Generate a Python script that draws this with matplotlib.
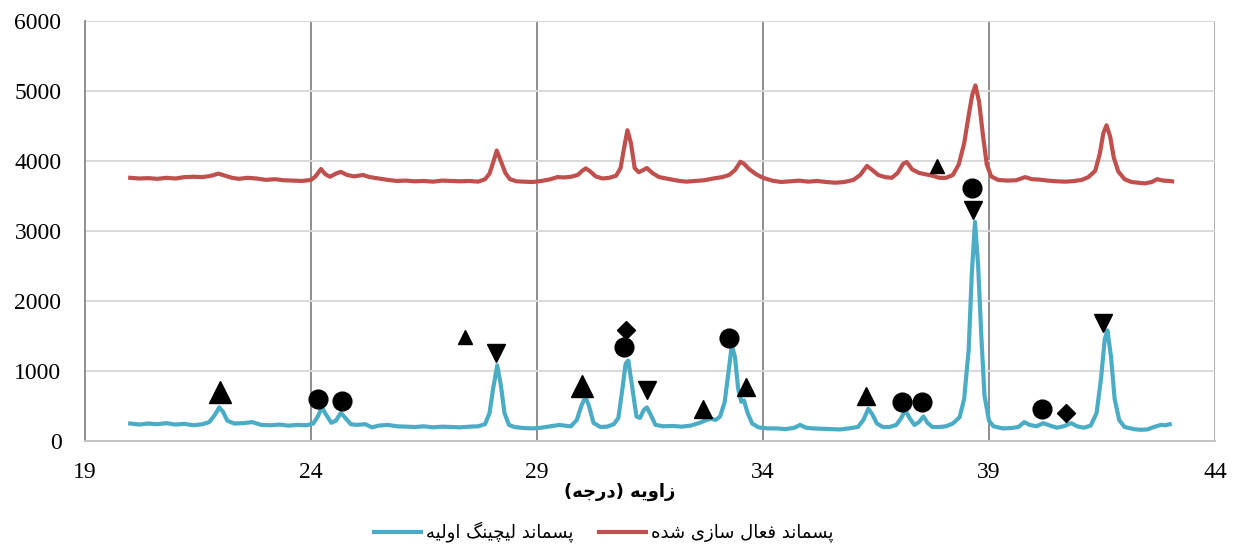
import matplotlib
matplotlib.use("Agg")
import matplotlib.pyplot as plt
from matplotlib.ticker import MultipleLocator

# ----- series (2-theta in degrees, intensity in counts) -----
leach_angle = [
    20.0, 20.2, 20.4, 20.6, 20.8, 21.0, 21.2, 21.4, 21.6, 21.75, 21.88, 21.97, 22.05, 22.15,
    22.3, 22.5, 22.7, 22.9, 23.1, 23.3, 23.5, 23.7, 23.9, 24.05, 24.15, 24.24, 24.33, 24.45,
    24.55, 24.66, 24.76, 24.88, 25.0, 25.2, 25.35, 25.5, 25.7, 25.9, 26.1, 26.3, 26.5, 26.7,
    26.9, 27.1, 27.3, 27.5, 27.7, 27.85, 27.95, 28.03, 28.12, 28.2, 28.28, 28.38, 28.5, 28.7,
    28.9, 29.1, 29.3, 29.5, 29.6, 29.75, 29.88, 29.98, 30.07, 30.15, 30.25, 30.4, 30.55, 30.7,
    30.8, 30.88, 30.96, 31.02, 31.1, 31.2, 31.28, 31.36, 31.43, 31.52, 31.62, 31.8, 32.0, 32.2,
    32.4, 32.6, 32.75, 32.85, 32.95, 33.05, 33.15, 33.24, 33.31, 33.38, 33.45, 33.52, 33.58,
    33.66, 33.76, 33.9, 34.1, 34.3, 34.5, 34.7, 34.82, 34.95, 35.1, 35.3, 35.5, 35.7, 35.9,
    36.1, 36.22, 36.33, 36.42, 36.52, 36.65, 36.8, 36.95, 37.05, 37.15, 37.25, 37.35, 37.45,
    37.55, 37.64, 37.75, 37.9, 38.05, 38.2, 38.35, 38.45, 38.55, 38.62, 38.69, 38.76, 38.83,
    38.9, 39.0, 39.1, 39.3, 39.5, 39.65, 39.78, 39.9, 40.05, 40.2, 40.35, 40.5, 40.65, 40.82,
    40.95, 41.1, 41.25, 41.38, 41.48, 41.56, 41.62, 41.7, 41.78, 41.88, 42.0, 42.2, 42.35,
    42.5, 42.65, 42.8, 42.9, 43.0,
]
leach_counts = [
    250, 235, 250, 240, 255, 235, 245, 225, 240, 270, 380, 480, 420, 290,
    250, 255, 270, 230, 225, 235, 220, 230, 225, 250, 350, 480, 380, 260,
    290, 400, 330, 240, 230, 240, 195, 220, 230, 210, 205, 200, 210, 195,
    205, 200, 195, 205, 210, 240, 400, 750, 1080, 800, 400, 230, 200, 185,
    180, 190, 210, 230, 220, 210, 300, 500, 630, 500, 260, 200, 205, 240,
    330, 700, 1100, 1150, 800, 350, 330, 440, 480, 370, 230, 210, 215, 205,
    220, 260, 300, 320, 300, 350, 550, 1000, 1370, 1200, 750, 560, 580,
    400, 250, 195, 180, 180, 170, 190, 230, 190, 180, 175, 170, 165, 180,
    200, 300, 460, 380, 250, 200, 200, 230, 320, 440, 320, 230, 270,
    350, 260, 200, 200, 210, 250, 340, 600, 1300, 2400, 3130, 2500, 1500,
    650, 290, 210, 180, 185, 200, 270, 230, 210, 255, 220, 190, 210, 255,
    210, 190, 220, 400, 900, 1450, 1580, 1200, 600, 300, 200, 170, 160,
    165, 200, 230, 225, 240,
]

active_angle = [
    20.0, 20.2, 20.4, 20.6, 20.8, 21.0, 21.2, 21.4, 21.6, 21.8, 21.95, 22.1, 22.25, 22.4,
    22.6, 22.8, 23.0, 23.2, 23.4, 23.6, 23.8, 24.0, 24.1, 24.22, 24.32, 24.42, 24.55, 24.66,
    24.8, 24.95, 25.15, 25.3, 25.5, 25.7, 25.9, 26.1, 26.3, 26.5, 26.7, 26.9, 27.1, 27.3,
    27.5, 27.7, 27.85, 27.95, 28.04, 28.11, 28.2, 28.3, 28.4, 28.55, 28.7, 28.9, 29.1, 29.3,
    29.45, 29.6, 29.75, 29.9, 30.0, 30.08, 30.18, 30.3, 30.45, 30.6, 30.75, 30.85, 30.93,
    31.0, 31.08, 31.16, 31.25, 31.35, 31.43, 31.55, 31.7, 31.9, 32.1, 32.3, 32.5, 32.7, 32.9,
    33.1, 33.25, 33.38, 33.5, 33.58, 33.7, 33.85, 34.0, 34.2, 34.4, 34.6, 34.8, 35.0, 35.2,
    35.4, 35.6, 35.8, 36.0, 36.15, 36.3, 36.42, 36.55, 36.7, 36.85, 36.98, 37.1, 37.18, 37.3,
    37.45, 37.6, 37.75, 37.9, 38.05, 38.2, 38.33, 38.45, 38.55, 38.63, 38.7, 38.78, 38.86,
    38.95, 39.05, 39.2, 39.4, 39.6, 39.8, 39.95, 40.1, 40.3, 40.5, 40.7, 40.9, 41.05, 41.2,
    41.35, 41.45, 41.53, 41.6, 41.68, 41.76, 41.86, 42.0, 42.15, 42.3, 42.45, 42.6, 42.72,
    42.85, 43.0, 43.05,
]
active_counts = [
    3760, 3750, 3755, 3745, 3760, 3750, 3770, 3775, 3770, 3790, 3820, 3790, 3760, 3745,
    3760, 3750, 3730, 3740, 3725, 3720, 3715, 3730, 3780, 3885, 3810, 3775, 3820, 3845,
    3800, 3780, 3800, 3770, 3750, 3730, 3715, 3720, 3710, 3715, 3705, 3720, 3715, 3710,
    3715, 3705, 3740, 3820, 4000, 4150, 4000, 3830, 3740, 3710, 3705, 3700, 3715, 3740,
    3770, 3765, 3775, 3800, 3860, 3895, 3850, 3780, 3750, 3760, 3790, 3900, 4200,
    4440, 4250, 3900, 3840, 3870, 3900, 3830, 3770, 3745, 3720, 3705, 3715, 3725, 3750,
    3770, 3800, 3870, 3990, 3960, 3880, 3810, 3760, 3720, 3700, 3710, 3720, 3705, 3715,
    3700, 3690, 3700, 3730, 3800, 3930, 3870, 3800, 3770, 3760, 3830, 3960, 3985, 3880,
    3830, 3810, 3790, 3760, 3760, 3800, 3950, 4250, 4650, 4950, 5080, 4850, 4400,
    3950, 3780, 3730, 3720, 3725, 3770, 3740, 3735, 3720, 3710, 3705, 3715, 3730, 3770,
    3860, 4100, 4400, 4510, 4350, 4050, 3850, 3740, 3700, 3690, 3680, 3700, 3740,
    3720, 3715, 3710,
]

# phase markers (angle, height) as drawn above the peaks
big_up_angle, big_up_height = [21.99, 30.0], [700, 786]
mid_up_angle, mid_up_height = [32.67, 33.63, 36.28], [460, 771, 643]
small_up_angle, small_up_height = [27.4, 37.85], [1486, 3930]
down_angle, down_height = [28.1, 31.43, 38.65, 41.52], [1257, 729, 3300, 1686]
circle_angle = [24.15, 24.69, 30.93, 33.25, 37.08, 37.52, 38.62, 40.17]
circle_height = [600, 571, 1343, 1467, 557, 557, 3614, 457]
diamond_angle, diamond_height = [30.97, 40.7], [1586, 400]

x_ticks = [19, 24, 29, 34, 39, 44]

label_leach = "پسماند لیچینگ اولیه"
label_active = "پسماند فعال سازی شده"
label_x = "زاویه (درجه)"

BLUE = "#4BACC6"
RED = "#C0504D"

# ----- minimal Arabic/Persian shaping (matplotlib draws glyphs left-to-right, unjoined) -----
FORMS = {
    "ا": (0xFE8D, 0xFE8E), "د": (0xFEA9, 0xFEAA), "ر": (0xFEAD, 0xFEAE),
    "ز": (0xFEAF, 0xFEB0), "و": (0xFEED, 0xFEEE),
    "ج": (0xFE9D, 0xFE9E, 0xFE9F, 0xFEA0), "س": (0xFEB1, 0xFEB2, 0xFEB3, 0xFEB4),
    "ش": (0xFEB5, 0xFEB6, 0xFEB7, 0xFEB8), "ع": (0xFEC9, 0xFECA, 0xFECB, 0xFECC),
    "ف": (0xFED1, 0xFED2, 0xFED3, 0xFED4), "ل": (0xFEDD, 0xFEDE, 0xFEDF, 0xFEE0),
    "م": (0xFEE1, 0xFEE2, 0xFEE3, 0xFEE4), "ن": (0xFEE5, 0xFEE6, 0xFEE7, 0xFEE8),
    "ه": (0xFEE9, 0xFEEA, 0xFEEB, 0xFEEC), "ی": (0xFBFC, 0xFBFD, 0xFBFE, 0xFBFF),
    "پ": (0xFB56, 0xFB57, 0xFB58, 0xFB59), "چ": (0xFB7A, 0xFB7B, 0xFB7C, 0xFB7D),
    "گ": (0xFB92, 0xFB93, 0xFB94, 0xFB95),
}


def rtl(text):
    out = []
    for i, ch in enumerate(text):
        if ch not in FORMS:
            out.append(ch)
            continue
        prev = text[i - 1] if i > 0 else ""
        nxt = text[i + 1] if i + 1 < len(text) else ""
        f = FORMS[ch]
        jp = prev in FORMS and len(FORMS[prev]) == 4
        jn = len(f) == 4 and nxt in FORMS
        if jp and jn:
            out.append(chr(f[3]))
        elif jp:
            out.append(chr(f[1]))
        elif jn:
            out.append(chr(f[2]))
        else:
            out.append(chr(f[0]))
    return "".join(reversed(out)).translate(str.maketrans("()", ")("))


plt.rcParams["font.family"] = ["Liberation Serif", "DejaVu Sans"]

fig = plt.figure(figsize=(12.35, 5.48), dpi=100)
ax = fig.add_axes([85 / 1235, 1 - 441 / 548, 1130 / 1235, 420 / 548])

ax.plot(leach_angle, leach_counts, color=BLUE, lw=3.0, solid_joinstyle="round",
        label=rtl(label_leach), zorder=2)
ax.plot(active_angle, active_counts, color=RED, lw=3.0, solid_joinstyle="round",
        label=rtl(label_active), zorder=2)

mk = dict(ls="none", color="black", zorder=4)
ax.plot(big_up_angle, big_up_height, marker="^", ms=16, **mk)
ax.plot(mid_up_angle, mid_up_height, marker="^", ms=12.5, **mk)
ax.plot(small_up_angle, small_up_height, marker="^", ms=10.5, **mk)
ax.plot(down_angle, down_height, marker="v", ms=13, **mk)
ax.plot(circle_angle, circle_height, marker="o", ms=13.5, **mk)
ax.plot(diamond_angle, diamond_height, marker="D", ms=9, **mk)

ax.set_xlim(19, 44)
ax.set_ylim(0, 6000)
ax.set_xticks(x_ticks)
ax.yaxis.set_major_locator(MultipleLocator(1000))
ax.tick_params(length=0, labelsize=17, colors="black")
ax.tick_params(axis="x", pad=15)
ax.tick_params(axis="y", pad=17)

ax.grid(axis="y", color="#D9D9D9", lw=1.4, zorder=0)
for xv in x_ticks[1:-1]:
    ax.axvline(xv, color="#868686", lw=1.3, zorder=1)
ax.axvline(44, color="#A6A6A6", lw=1.3, zorder=1)

for side in ["top", "right"]:
    ax.spines[side].set_visible(False)
ax.spines["left"].set_color("#868686")
ax.spines["left"].set_linewidth(1.3)
ax.spines["bottom"].set_color("#BFBFBF")
ax.spines["bottom"].set_linewidth(1.3)

fig.text(620 / 1235, 1 - 492 / 548, rtl(label_x), ha="center", va="center",
         fontsize=13, fontweight="bold", family=["DejaVu Sans"])

fig.legend(loc="center", bbox_to_anchor=(604 / 1235, 1 - 532 / 548), ncol=2,
           frameon=False, prop={"family": "DejaVu Sans", "size": 13},
           handlelength=2.6, columnspacing=1.4, handletextpad=0.3)

fig.savefig("out.png", dpi=100)
